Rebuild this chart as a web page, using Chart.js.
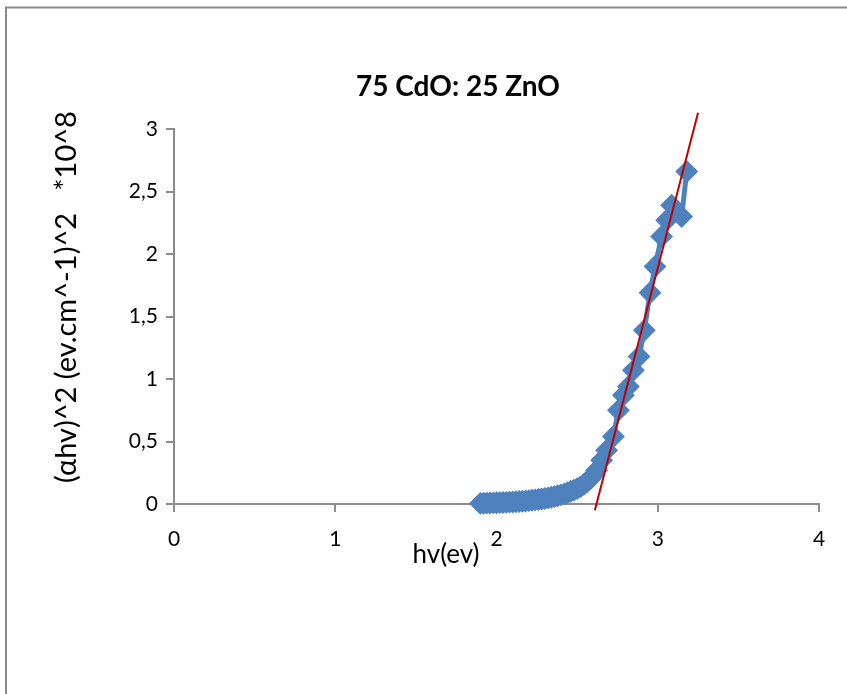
<!DOCTYPE html>
<html>
<head>
<meta charset="utf-8">
<title>75 CdO: 25 ZnO</title>
<script src="https://cdn.jsdelivr.net/npm/chart.js@4.4.1/dist/chart.umd.min.js"></script>
<style>
  body { margin: 0; background: #fff; }
  canvas { display: block; }
</style>
</head>
<body>
<canvas id="taucChart" width="847" height="694"></canvas>
<script>
// Energia do fóton hv (eV) e (αhv)^2 em unidades de 10^8
const hv = [1.90, 1.92, 1.94, 1.96, 1.98, 2.00, 2.02, 2.04, 2.06, 2.08,
            2.10, 2.12, 2.14, 2.16, 2.18, 2.20, 2.22, 2.24, 2.26, 2.28,
            2.30, 2.32, 2.34, 2.36, 2.38, 2.40, 2.42, 2.44, 2.46, 2.48,
            2.50, 2.52, 2.54, 2.56, 2.58, 2.60, 2.621, 2.652, 2.683, 2.725,
            2.756, 2.787, 2.818, 2.849, 2.884, 2.917, 2.952, 2.983, 3.024, 3.055,
            3.086, 3.148, 3.18];
const alphaHv2 = [0.005, 0.006, 0.007, 0.008, 0.009, 0.010, 0.011, 0.012, 0.013, 0.015,
                  0.016, 0.018, 0.020, 0.022, 0.024, 0.027, 0.030, 0.033, 0.036, 0.040,
                  0.044, 0.049, 0.054, 0.060, 0.066, 0.073, 0.081, 0.090, 0.100, 0.111,
                  0.123, 0.137, 0.155, 0.175, 0.20, 0.23, 0.27, 0.35, 0.43, 0.54,
                  0.75, 0.87, 0.94, 1.07, 1.18, 1.39, 1.69, 1.90, 2.14, 2.27,
                  2.39, 2.30, 2.66];

// Reta de extrapolação (gap óptico)
const fitHv = [2.61, 3.25];
const fitAlpha = [-0.05, 3.13];

// Rótulos do eixo Y com vírgula decimal
const yTickValues = [0, 0.5, 1, 1.5, 2, 2.5, 3];
const yTickLabels = ['0', '0,5', '1', '1,5', '2', '2,5', '3'];

const FONTE = 'Lato, "Open Sans", sans-serif';
const CINZA = '#8c8c8c';

// Moldura, título e títulos dos eixos
const textosPlugin = {
  id: 'textos',
  beforeDraw(chart) {
    const ctx = chart.ctx;
    ctx.save();
    ctx.strokeStyle = CINZA;
    ctx.lineWidth = 2;
    ctx.beginPath();
    ctx.moveTo(6, 694);
    ctx.lineTo(6, 7.5);
    ctx.lineTo(847, 7.5);
    ctx.stroke();
    ctx.restore();
  },
  afterDraw(chart) {
    const ctx = chart.ctx;
    ctx.save();
    ctx.fillStyle = '#000';
    ctx.textAlign = 'center';
    ctx.textBaseline = 'middle';

    ctx.font = 'bold 28px ' + FONTE;
    ctx.fillText('75 CdO: 25 ZnO', 458, 87);

    ctx.font = '26px ' + FONTE;
    ctx.fillText('hv(ev)', 446, 555);

    ctx.translate(67, 297);
    ctx.rotate(-Math.PI / 2);
    ctx.font = '29px ' + FONTE;
    ctx.fillText('(αhv)^2 (ev.cm^-1)^2   *10^8', 0, 0);
    ctx.restore();
  }
};

const pontos = hv.map((x, i) => ({ x: x, y: alphaHv2[i] }));
const reta = fitHv.map((x, i) => ({ x: x, y: fitAlpha[i] }));

const ctx = document.getElementById('taucChart').getContext('2d');
new Chart(ctx, {
  type: 'scatter',
  data: {
    datasets: [
      {
        label: 'ajuste',
        data: reta,
        showLine: true,
        borderColor: '#C00000',
        borderWidth: 2,
        pointRadius: 0,
        clip: false,
        order: 0
      },
      {
        label: '(αhv)^2',
        data: pontos,
        showLine: true,
        borderColor: '#4F81BD',
        backgroundColor: '#4F81BD',
        borderWidth: 5,
        pointStyle: 'rectRot',
        pointRadius: 10,
        pointBorderWidth: 2,
        pointBorderColor: '#4F81BD',
        pointBackgroundColor: '#4F81BD',
        clip: false,
        order: 1
      }
    ]
  },
  options: {
    responsive: false,
    animation: false,
    layout: { padding: { top: 129, right: 28, left: 0, bottom: 0 } },
    plugins: {
      legend: { display: false },
      tooltip: { enabled: false },
      title: { display: false }
    },
    scales: {
      x: {
        type: 'linear',
        min: 0,
        max: 4,
        afterFit(scale) { scale.height = 190; },
        border: { color: CINZA, width: 2 },
        grid: { drawOnChartArea: false, drawTicks: true, tickLength: 8, color: CINZA, lineWidth: 2 },
        ticks: {
          stepSize: 1,
          color: '#000',
          padding: 15,
          font: { family: FONTE, size: 21 }
        }
      },
      y: {
        type: 'linear',
        min: 0,
        max: 3,
        afterFit(scale) { scale.width = 174; },
        border: { color: CINZA, width: 2 },
        grid: { drawOnChartArea: false, drawTicks: true, tickLength: 8, color: CINZA, lineWidth: 2 },
        ticks: {
          stepSize: 0.5,
          color: '#000',
          padding: 8,
          font: { family: FONTE, size: 21 },
          callback: function (value) {
            const i = yTickValues.indexOf(value);
            return i >= 0 ? yTickLabels[i] : '';
          }
        }
      }
    }
  },
  plugins: [textosPlugin]
});
</script>
</body>
</html>
